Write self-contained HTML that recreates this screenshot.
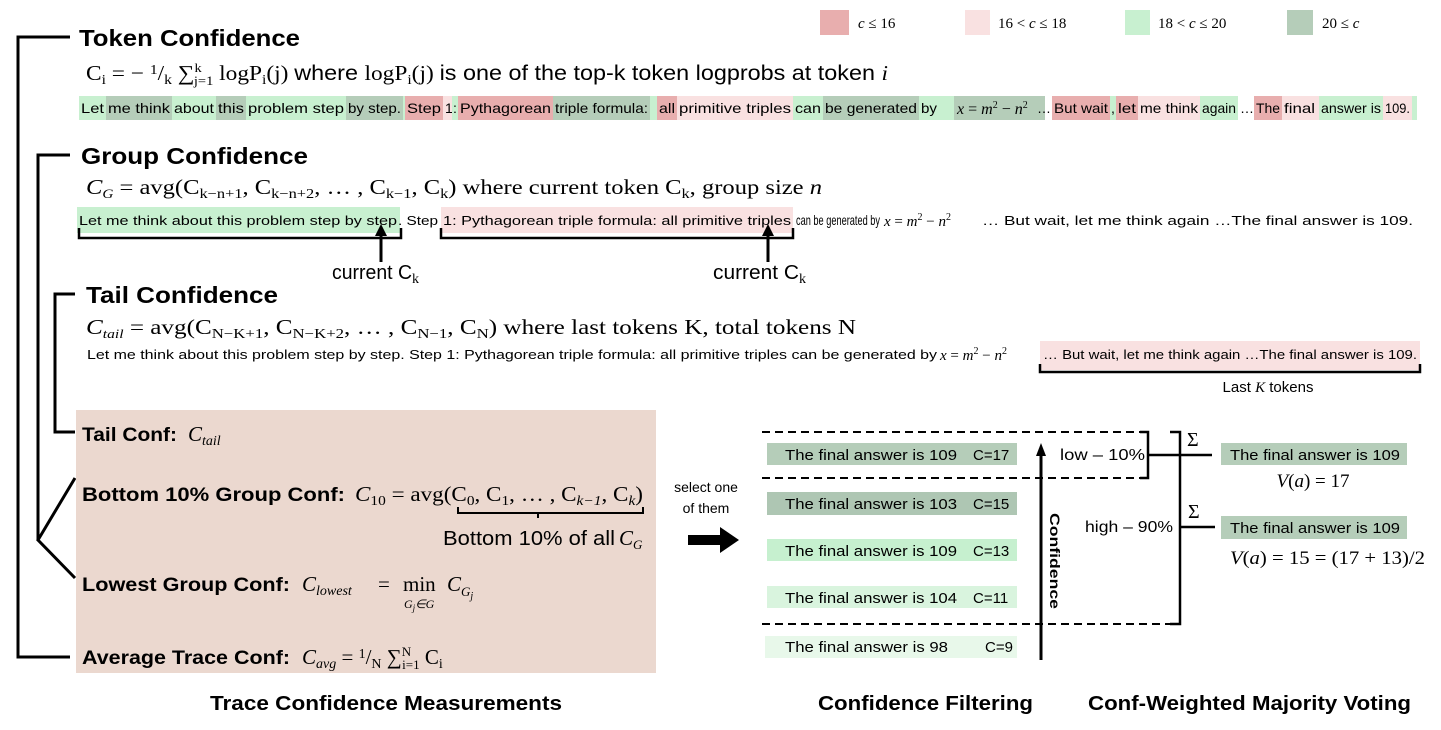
<!DOCTYPE html>
<html><head><meta charset="utf-8"><style>
html,body{margin:0;padding:0;background:#fff;}
svg{display:block;}
.n{font-family:"Liberation Sans",sans-serif;}
.b{font-family:"Liberation Sans",sans-serif;font-weight:bold;}
.m{font-family:"Liberation Serif",serif;}
.i{font-style:italic;}
</style></head><body>
<svg width="1441" height="730" viewBox="0 0 1441 730" xmlns="http://www.w3.org/2000/svg">
<!-- legend -->
<rect x="820" y="10" width="29" height="25" fill="#e8aeae"/>
<text x="858" y="28" class="m i" font-size="15">c <tspan font-style="normal">≤ 16</tspan></text>
<rect x="965" y="10" width="25" height="25" fill="#f9e1e1"/>
<text x="998" y="28" class="m" font-size="15">16 &lt; <tspan font-style="italic">c</tspan> ≤ 18</text>
<rect x="1125" y="10" width="25" height="25" fill="#c8f0d0"/>
<text x="1158" y="28" class="m" font-size="15">18 &lt; <tspan font-style="italic">c</tspan> ≤ 20</text>
<rect x="1287" y="10" width="26" height="25" fill="#b5cdb9"/>
<text x="1322" y="28" class="m" font-size="15">20 ≤ <tspan font-style="italic">c</tspan></text>

<!-- brackets left -->
<g stroke="#000" stroke-width="3" fill="none">
<polyline points="70,37 18,37 18,657 70,657"/>
<polyline points="70,155 38,155 38,540"/>
<polyline points="75,478 38,540 75,578"/>
<polyline points="75,294 55,294 55,432 75,432"/>
</g>

<!-- Token Confidence -->
<text x="79" y="46" class="b" font-size="23" textLength="221" lengthAdjust="spacingAndGlyphs">Token Confidence</text>
<text x="86" y="80" class="m" font-size="21" textLength="802" lengthAdjust="spacingAndGlyphs">C<tspan font-size="14" dy="4">i</tspan><tspan dy="-4"> = − </tspan><tspan font-size="14" dy="-6">1</tspan><tspan dy="6">/</tspan><tspan font-size="14" dy="4">k</tspan><tspan dy="-4"> ∑</tspan><tspan font-size="13" dy="-8">k</tspan><tspan font-size="13" dx="-7" dy="13">j=1</tspan><tspan dy="-5"> logP</tspan><tspan font-size="14" dy="4">i</tspan><tspan dy="-4">(j) </tspan><tspan font-family="Liberation Sans, sans-serif">where </tspan>logP<tspan font-size="14" dy="4">i</tspan><tspan dy="-4">(j) </tspan><tspan font-family="Liberation Sans, sans-serif">is one of the top-k token logprobs at token </tspan><tspan font-style="italic">i</tspan></text>

<g class="n" font-size="14">
<rect x="79" y="96" width="27" height="24" fill="#c8f0d0"/><text x="81" y="113" textLength="23" lengthAdjust="spacingAndGlyphs">Let</text>
<rect x="106" y="96" width="66" height="24" fill="#b5cdb9"/><text x="108" y="113" textLength="62" lengthAdjust="spacingAndGlyphs">me think</text>
<rect x="172" y="96" width="44" height="24" fill="#c8f0d0"/><text x="174" y="113" textLength="40" lengthAdjust="spacingAndGlyphs">about</text>
<rect x="216" y="96" width="30" height="24" fill="#b5cdb9"/><text x="218" y="113" textLength="26" lengthAdjust="spacingAndGlyphs">this</text>
<rect x="246" y="96" width="100" height="24" fill="#c8f0d0"/><text x="248" y="113" textLength="96" lengthAdjust="spacingAndGlyphs">problem step</text>
<rect x="346" y="96" width="57" height="24" fill="#b5cdb9"/><text x="348" y="113" textLength="53" lengthAdjust="spacingAndGlyphs">by step.</text>
<rect x="403" y="96" width="2" height="24" fill="#c8f0d0"/>
<rect x="405" y="96" width="38" height="24" fill="#e8aeae"/><text x="407" y="113" textLength="34" lengthAdjust="spacingAndGlyphs">Step</text>
<rect x="443" y="96" width="9" height="24" fill="#f9e1e1"/><text x="445" y="113">1</text>
<rect x="452" y="96" width="6" height="24" fill="#c8f0d0"/><text x="453" y="113">:</text>
<rect x="458" y="96" width="95" height="24" fill="#e8aeae"/><text x="460" y="113" textLength="91" lengthAdjust="spacingAndGlyphs">Pythagorean</text>
<rect x="553" y="96" width="97" height="24" fill="#b5cdb9"/><text x="555" y="113" textLength="93" lengthAdjust="spacingAndGlyphs">triple formula:</text>
<rect x="650" y="96" width="7" height="24" fill="#c8f0d0"/>
<rect x="657" y="96" width="20" height="24" fill="#e8aeae"/><text x="659" y="113" textLength="16" lengthAdjust="spacingAndGlyphs">all</text>
<rect x="677" y="96" width="116" height="24" fill="#f9e1e1"/><text x="679" y="113" textLength="112" lengthAdjust="spacingAndGlyphs">primitive triples</text>
<rect x="793" y="96" width="30" height="24" fill="#c8f0d0"/><text x="795" y="113" textLength="26" lengthAdjust="spacingAndGlyphs">can</text>
<rect x="823" y="96" width="96" height="24" fill="#b5cdb9"/><text x="825" y="113" textLength="92" lengthAdjust="spacingAndGlyphs">be generated</text>
<rect x="919" y="96" width="35" height="24" fill="#c8f0d0"/><text x="921" y="113" textLength="16" lengthAdjust="spacingAndGlyphs">by</text>
<rect x="954" y="96" width="91" height="24" fill="#b5cdb9"/><text x="957" y="114" class="m" font-size="16"><tspan font-style="italic">x</tspan> = <tspan font-style="italic">m</tspan><tspan font-size="10" dy="-6">2</tspan><tspan dy="6"> − </tspan><tspan font-style="italic">n</tspan><tspan font-size="10" dy="-6">2</tspan></text>
<text x="1037" y="113">…</text>
<rect x="1052" y="96" width="58" height="24" fill="#e8aeae"/><text x="1054" y="113" textLength="54" lengthAdjust="spacingAndGlyphs">But wait</text>
<rect x="1110" y="96" width="6" height="24" fill="#c8f0d0"/><text x="1111" y="113">,</text>
<rect x="1116" y="96" width="22" height="24" fill="#e8aeae"/><text x="1118" y="113" textLength="18" lengthAdjust="spacingAndGlyphs">let</text>
<rect x="1138" y="96" width="62" height="24" fill="#f9e1e1"/><text x="1140" y="113" textLength="58" lengthAdjust="spacingAndGlyphs">me think</text>
<rect x="1200" y="96" width="38" height="24" fill="#c8f0d0"/><text x="1202" y="113" textLength="34" lengthAdjust="spacingAndGlyphs">again</text>
<text x="1240" y="113">…</text>
<rect x="1254" y="96" width="28" height="24" fill="#e8aeae"/><text x="1256" y="113" textLength="24" lengthAdjust="spacingAndGlyphs">The</text>
<rect x="1282" y="96" width="37" height="24" fill="#f9e1e1"/><text x="1284" y="113" textLength="31" lengthAdjust="spacingAndGlyphs">final</text>
<rect x="1319" y="96" width="64" height="24" fill="#c8f0d0"/><text x="1321" y="113" textLength="60" lengthAdjust="spacingAndGlyphs">answer is</text>
<rect x="1383" y="96" width="29" height="24" fill="#f9e1e1"/><text x="1385" y="113" textLength="25" lengthAdjust="spacingAndGlyphs">109.</text>
<rect x="1412" y="96" width="5" height="24" fill="#c8f0d0"/>
</g>

<!-- Group Confidence -->
<text x="81" y="164" class="b" font-size="23" textLength="227" lengthAdjust="spacingAndGlyphs">Group Confidence</text>
<text x="86" y="194" class="m" font-size="21" textLength="736" lengthAdjust="spacingAndGlyphs"><tspan font-style="italic">C</tspan><tspan font-size="13" font-style="italic" dy="4">G</tspan><tspan dy="-4"> = avg(C</tspan><tspan font-size="14" dy="4">k−n+1</tspan><tspan dy="-4">, C</tspan><tspan font-size="14" dy="4">k−n+2</tspan><tspan dy="-4">, … , C</tspan><tspan font-size="14" dy="4">k−1</tspan><tspan dy="-4">, C</tspan><tspan font-size="14" dy="4">k</tspan><tspan dy="-4">) where current token C</tspan><tspan font-size="14" dy="4">k</tspan><tspan dy="-4">, group size </tspan><tspan font-style="italic">n</tspan></text>
<rect x="77" y="207" width="323" height="26" fill="#c8f0d0"/>
<rect x="441" y="207" width="352" height="26" fill="#f9e1e1"/>
<g class="n" font-size="13">
<text x="79" y="225" textLength="318" lengthAdjust="spacingAndGlyphs">Let me think about this problem step by step</text>
<text x="398" y="225" textLength="40" lengthAdjust="spacingAndGlyphs">. Step</text>
<text x="443" y="225" textLength="348" lengthAdjust="spacingAndGlyphs">1: Pythagorean triple formula: all primitive triples</text>
<text x="796" y="225" font-size="14" textLength="84" lengthAdjust="spacingAndGlyphs">can be generated by</text>
<text x="884" y="226" class="m" font-size="15"><tspan font-style="italic">x</tspan> = <tspan font-style="italic">m</tspan><tspan font-size="10" dy="-6">2</tspan><tspan dy="6"> − </tspan><tspan font-style="italic">n</tspan><tspan font-size="10" dy="-6">2</tspan></text>
<text x="982" y="225" textLength="431" lengthAdjust="spacingAndGlyphs">… But wait, let me think again …The final answer is 109.</text>
</g>
<g stroke="#000" stroke-width="2.5" fill="none">
<polyline points="79,228 79,238 401,238 401,228"/>
<polyline points="441,228 441,238 793,238 793,228"/>
<line x1="381" y1="262" x2="381" y2="232" stroke-width="3"/>
<line x1="768" y1="262" x2="768" y2="232" stroke-width="3"/>
</g>
<path d="M375,236 L381,224 L387,236 z" fill="#000"/>
<path d="M762,236 L768,224 L774,236 z" fill="#000"/>
<text x="332" y="279" class="n" font-size="20" textLength="80" lengthAdjust="spacingAndGlyphs">current C</text><text x="412" y="283" class="m" font-size="14">k</text>
<text x="713" y="279" class="n" font-size="20" textLength="86" lengthAdjust="spacingAndGlyphs">current  C</text><text x="799" y="283" class="m" font-size="14">k</text>

<!-- Tail Confidence -->
<text x="86" y="303" class="b" font-size="23" textLength="192" lengthAdjust="spacingAndGlyphs">Tail Confidence</text>
<text x="86" y="334" class="m" font-size="21" textLength="770" lengthAdjust="spacingAndGlyphs"><tspan font-style="italic">C</tspan><tspan font-size="13" font-style="italic" dy="4">tail</tspan><tspan dy="-4"> = avg(C</tspan><tspan font-size="14" dy="4">N−K+1</tspan><tspan dy="-4">, C</tspan><tspan font-size="14" dy="4">N−K+2</tspan><tspan dy="-4">, … , C</tspan><tspan font-size="14" dy="4">N−1</tspan><tspan dy="-4">, C</tspan><tspan font-size="14" dy="4">N</tspan><tspan dy="-4">) where last tokens K, total tokens N</tspan></text>
<rect x="1040" y="341" width="380" height="29" fill="#f9e1e1"/>
<g class="n" font-size="13">
<text x="87" y="359" textLength="850" lengthAdjust="spacingAndGlyphs">Let me think about this problem step by step. Step 1: Pythagorean triple formula: all primitive triples can be generated by</text>
<text x="940" y="360" class="m" font-size="15"><tspan font-style="italic">x</tspan> = <tspan font-style="italic">m</tspan><tspan font-size="10" dy="-6">2</tspan><tspan dy="6"> − </tspan><tspan font-style="italic">n</tspan><tspan font-size="10" dy="-6">2</tspan></text>
<text x="1043" y="359" textLength="374" lengthAdjust="spacingAndGlyphs">… But wait, let me think again …The final answer is 109.</text>
</g>
<polyline points="1040,364 1040,372 1420,372 1420,364" stroke="#000" stroke-width="2.5" fill="none"/>
<text x="1268" y="392" class="n" font-size="15" text-anchor="middle">Last <tspan class="m i">K</tspan> tokens</text>

<!-- big box -->
<rect x="76" y="410" width="580" height="263" fill="#ebd8cf"/>
<text x="82" y="441" class="b" font-size="19" textLength="95" lengthAdjust="spacingAndGlyphs">Tail Conf:</text>
<text x="188" y="441" class="m i" font-size="21">C<tspan font-size="14" dy="4">tail</tspan></text>
<text x="82" y="501" class="b" font-size="19" textLength="263" lengthAdjust="spacingAndGlyphs">Bottom 10% Group Conf:</text>
<text x="355" y="501" class="m" font-size="21" textLength="288" lengthAdjust="spacingAndGlyphs"><tspan font-style="italic">C</tspan><tspan font-size="14" dy="4">10</tspan><tspan dy="-4"> = avg(C</tspan><tspan font-size="14" dy="4">0</tspan><tspan dy="-4">, C</tspan><tspan font-size="14" dy="4">1</tspan><tspan dy="-4">, … , C</tspan><tspan font-size="14" dy="4" font-style="italic">k−1</tspan><tspan dy="-4">, C</tspan><tspan font-size="14" dy="4" font-style="italic">k</tspan><tspan dy="-4">)</tspan></text>
<path d="M458,507 v6 h80 v5 M538,513 h105 v-6" stroke="#000" stroke-width="2" fill="none"/>
<text x="443" y="545" class="n" font-size="20" textLength="172" lengthAdjust="spacingAndGlyphs">Bottom 10% of all</text>
<text x="619" y="545" class="m i" font-size="21">C<tspan font-size="13" dy="4">G</tspan></text>
<text x="82" y="591" class="b" font-size="19" textLength="208" lengthAdjust="spacingAndGlyphs">Lowest Group Conf:</text>
<text x="302" y="591" class="m i" font-size="21">C<tspan font-size="14" dy="4">lowest</tspan></text>
<text x="378" y="591" class="m" font-size="21">=</text>
<text x="403" y="591" class="m" font-size="21">min</text>
<text x="447" y="591" class="m i" font-size="21">C<tspan font-size="13" dy="5">G</tspan><tspan font-size="10" dy="3">j</tspan></text>
<text x="404" y="608" class="m i" font-size="12">G<tspan font-size="9" dy="3">j</tspan><tspan dy="-3">∈G</tspan></text>
<text x="82" y="664" class="b" font-size="19" textLength="208" lengthAdjust="spacingAndGlyphs">Average Trace Conf:</text>
<text x="302" y="664" class="m" font-size="21"><tspan font-style="italic">C</tspan><tspan font-size="14" font-style="italic" dy="4">avg</tspan><tspan dy="-4"> = </tspan><tspan font-size="14" dy="-6">1</tspan><tspan dy="6">/</tspan><tspan font-size="14" dy="4">N</tspan><tspan dy="-4"> ∑</tspan><tspan font-size="13" dy="-8">N</tspan><tspan font-size="13" dx="-9" dy="13">i=1</tspan><tspan dy="-5"> C</tspan><tspan font-size="14" dy="4">i</tspan></text>

<!-- select -->
<text x="706" y="492" class="n" font-size="14" text-anchor="middle">select one</text>
<text x="706" y="513" class="n" font-size="14" text-anchor="middle">of them</text>
<path d="M688,535 h32 v-8 l19,13 l-19,13 v-8 h-32 z" fill="#000"/>

<!-- filtering boxes -->
<g class="n" font-size="15">
<rect x="767" y="443" width="250" height="22" fill="#b5cdb9"/><text x="785" y="460" textLength="172" lengthAdjust="spacingAndGlyphs">The final answer is 109</text><text x="973" y="460">C=17</text>
<rect x="767" y="492" width="250" height="23" fill="#aec6b3"/><text x="785" y="509" textLength="172" lengthAdjust="spacingAndGlyphs">The final answer is 103</text><text x="973" y="509">C=15</text>
<rect x="767" y="539" width="250" height="22" fill="#c6f0cf"/><text x="785" y="556" textLength="172" lengthAdjust="spacingAndGlyphs">The final answer is 109</text><text x="973" y="556">C=13</text>
<rect x="767" y="586" width="250" height="22" fill="#d9f4de"/><text x="785" y="603" textLength="172" lengthAdjust="spacingAndGlyphs">The final answer is 104</text><text x="973" y="603">C=11</text>
<rect x="765" y="636" width="252" height="22" fill="#e8f8ea"/><text x="785" y="652" textLength="163" lengthAdjust="spacingAndGlyphs">The final answer is 98</text><text x="985" y="652">C=9</text>
</g>
<g stroke="#000" stroke-width="2" stroke-dasharray="8,5">
<line x1="762" y1="432" x2="1148" y2="432"/>
<line x1="762" y1="478" x2="1148" y2="478"/>
<line x1="762" y1="624" x2="1180" y2="624"/>
</g>
<line x1="1041" y1="660" x2="1041" y2="452" stroke="#000" stroke-width="3"/>
<path d="M1036,456 L1041,443 L1046,456 z" fill="#000"/>
<text transform="translate(1050,513) rotate(90)" class="b" font-size="14" textLength="96" lengthAdjust="spacingAndGlyphs">Confidence</text>
<text x="1060" y="460" class="n" font-size="16" textLength="85" lengthAdjust="spacingAndGlyphs">low – 10%</text>
<text x="1085" y="532" class="n" font-size="16" textLength="88" lengthAdjust="spacingAndGlyphs">high – 90%</text>
<g stroke="#000" stroke-width="2.5" fill="none">
<polyline points="1140,432 1148,432 1148,478 1140,478"/>
<line x1="1148" y1="455" x2="1212" y2="455"/>
<polyline points="1170,432 1180,432 1180,624 1170,624"/>
<line x1="1180" y1="527" x2="1215" y2="527"/>
</g>
<text x="1187" y="446" class="m" font-size="20">Σ</text>
<text x="1188" y="518" class="m" font-size="20">Σ</text>
<rect x="1221" y="443" width="186" height="22" fill="#b5cdb9"/>
<text x="1230" y="460" class="n" font-size="15" textLength="170" lengthAdjust="spacingAndGlyphs">The final answer is 109</text>
<text x="1313" y="487" class="m" font-size="19" text-anchor="middle"><tspan font-style="italic">V</tspan>(<tspan font-style="italic">a</tspan>) = 17</text>
<rect x="1221" y="516" width="186" height="23" fill="#b5cdb9"/>
<text x="1230" y="533" class="n" font-size="15" textLength="170" lengthAdjust="spacingAndGlyphs">The final answer is 109</text>
<text x="1230" y="564" class="m" font-size="19" textLength="195" lengthAdjust="spacingAndGlyphs"><tspan font-style="italic">V</tspan>(<tspan font-style="italic">a</tspan>) = 15 = (17 + 13)/2</text>

<!-- captions -->
<text x="210" y="710" class="b" font-size="20" textLength="352" lengthAdjust="spacingAndGlyphs">Trace Confidence Measurements</text>
<text x="818" y="710" class="b" font-size="20" textLength="215" lengthAdjust="spacingAndGlyphs">Confidence Filtering</text>
<text x="1088" y="710" class="b" font-size="20" textLength="323" lengthAdjust="spacingAndGlyphs">Conf-Weighted Majority Voting</text>
</svg>
</body></html>
